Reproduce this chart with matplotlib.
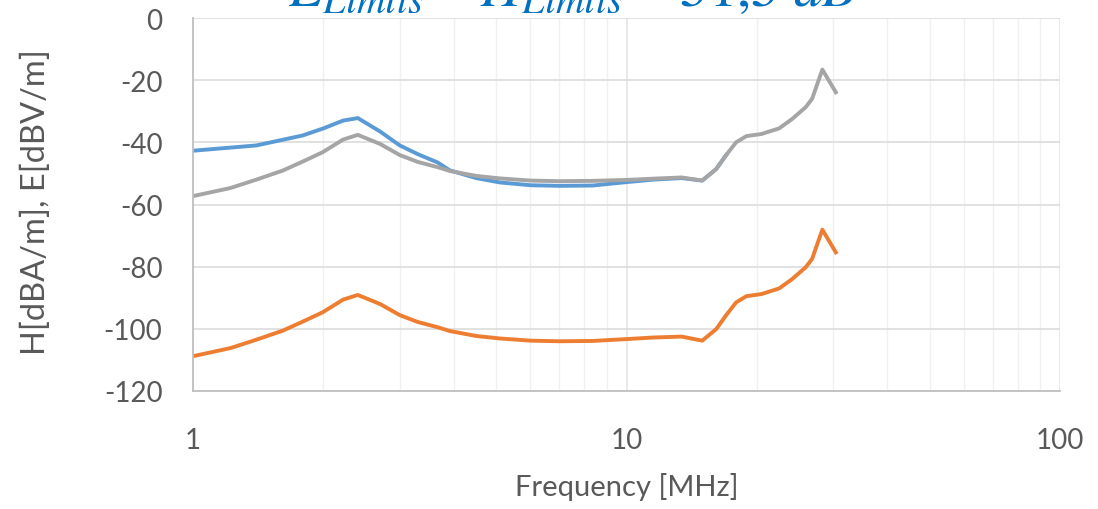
import matplotlib
matplotlib.use("Agg")
import matplotlib.pyplot as plt
from matplotlib.ticker import FixedLocator, NullFormatter

# frequencies in MHz
freq = [1.0, 1.22, 1.4, 1.61, 1.79, 1.99, 2.22, 2.40, 2.7, 3.0, 3.3, 3.67, 3.91, 4.5,
        5.1, 6.0, 7.0, 8.35, 10.0, 11.5, 13.4, 14.95, 16.1, 17.0, 17.9, 18.9, 20.5,
        22.5, 24.1, 25.9, 26.8, 28.3, 30.4]

# E field limit [dBV/m]
e_limit = [-57.3, -54.7, -52.0, -49.1, -46.2, -43.2, -39.1, -37.6, -40.5, -44.1, -46.3,
           -48.0, -49.2, -50.8, -51.6, -52.3, -52.5, -52.4, -52.1, -51.7, -51.3, -52.3,
           -48.6, -44.0, -40.0, -38.0, -37.3, -35.5, -32.5, -28.7, -26.0, -16.6, -23.9]

# H field limit [dBA/m]
h_limit = [-108.8, -106.2, -103.5, -100.6, -97.7, -94.7, -90.6, -89.1, -92.0, -95.6,
           -97.8, -99.5, -100.7, -102.3, -103.1, -103.8, -104.0, -103.9, -103.3, -102.8,
           -102.5, -103.8, -100.1, -95.5, -91.5, -89.5, -88.8, -87.0, -84.0, -80.2,
           -77.5, -68.1, -75.4]

# measured curve (joins the E limit above ~16 MHz)
freq_meas = [1.0, 1.4, 1.79, 2.0, 2.22, 2.40, 2.7, 3.0, 3.3, 3.67, 3.91, 4.5, 5.1, 6.0,
             7.0, 8.35, 10.0, 11.5, 13.4, 14.95, 16.1, 17.0]
meas = [-42.7, -41.0, -37.8, -35.5, -33.0, -32.2, -36.5, -41.0, -43.8, -46.5, -49.0,
        -51.5, -52.9, -53.8, -54.0, -53.9, -52.8, -52.0, -51.5, -52.3, -48.6, -44.0]

txt = "#595959"
plt.rcParams['font.family'] = ['Lato', 'DejaVu Sans']
plt.rcParams['mathtext.fontset'] = 'stix'
plt.rcParams['axes.unicode_minus'] = False

fig = plt.figure(figsize=(10.98, 5.10), dpi=100)
ax = fig.add_axes([193/1098, 1-392/510, (1060-193)/1098, (392-19)/510])

ax.plot(freq_meas, meas, color="#5B9BD5", lw=2.8, solid_joinstyle='round')
ax.plot(freq, h_limit, color="#ED7D31", lw=2.8, solid_joinstyle='round')
ax.plot(freq, e_limit, color="#A5A5A5", lw=2.8, solid_joinstyle='round')

ax.set_xscale('log')
ax.set_xlim(1, 100)
ax.set_ylim(-120, 0)
ax.set_yticks(range(-120, 1, 20))
ax.set_xticks([1, 10, 100])
ax.set_xticklabels(["1", "10", "100"])
ax.xaxis.set_minor_locator(FixedLocator([m * d for d in (1, 10) for m in range(2, 10)]))
ax.xaxis.set_minor_formatter(NullFormatter())

ax.grid(True, which='major', axis='y', color="#D9D9D9", lw=1.1)
ax.grid(True, which='major', axis='x', color="#E3E3E3", lw=1.1)
ax.grid(True, which='minor', axis='x', color="#F0F0F0", lw=1.0)
ax.set_axisbelow(True)

ax.tick_params(axis='both', which='both', length=0, labelsize=20, colors=txt)
ax.tick_params(axis='y', pad=22)
ax.tick_params(axis='x', pad=26)

for s in ('top', 'right'):
    ax.spines[s].set_visible(False)
for s in ('left', 'bottom'):
    ax.spines[s].set_color("#BFBFBF")
    ax.spines[s].set_linewidth(1.3)

ax.set_xlabel("Frequency [MHz]", fontsize=21, color=txt, va='center')
ax.xaxis.set_label_coords(0.5, (392-487)/373)
ax.set_ylabel("H[dBA/m], E[dBV/m]", fontsize=23.5, color=txt, va='center')
ax.yaxis.set_label_coords((36-193)/867, (392-202)/373)

fig.text(0.262, 1-6/510, r"$E_{Limits} - H_{Limits} = 51{,}5\ dB$",
         fontsize=41, color="#0070C0", ha='left', va='baseline')

fig.savefig("out.png", dpi=100)
